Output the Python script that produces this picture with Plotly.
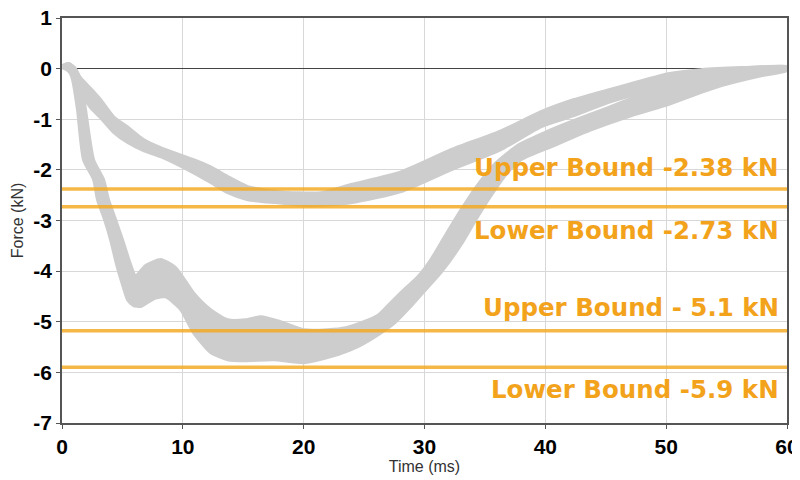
import plotly.graph_objects as go

# ---- data ----
# deep group envelope (time ms, force kN)
deep_top_t = [0.04, 0.54, 1.04, 1.53, 1.95, 2.61, 3.44, 3.85, 4.43, 5.01, 5.59, 6.09, 6.92, 8.16, 9.40,
              10.89, 12.30, 13.71, 15.20, 16.45, 18.10, 20.01, 21.99, 23.49, 24.98, 26.22, 27.22, 28.46,
              29.45, 30.53, 31.61, 33.02, 34.42, 35.91, 37.82, 40.06, 42.54, 45.19, 47.35, 50.17, 52.90,
              56.22, 60.0]
deep_top_f = [0.06, 0.10, 0.02, -0.22, -0.81, -1.80, -2.19, -2.59, -2.98, -3.38, -3.81, -4.09, -3.89,
              -3.77, -3.93, -4.43, -4.76, -4.96, -4.96, -4.90, -5.00, -5.16, -5.16, -5.12, -5.00, -4.86,
              -4.62, -4.33, -4.11, -3.77, -3.34, -2.79, -2.29, -1.86, -1.50, -1.25, -1.01, -0.77, -0.57,
              -0.32, -0.14, -0.02, 0.04]
deep_bot_t = [0.04, 0.37, 0.70, 0.87, 1.28, 1.78, 2.61, 2.94, 3.52, 4.02, 4.52, 5.01, 5.43, 5.92, 6.50,
              7.08, 7.75, 8.57, 9.82, 10.89, 12.30, 13.71, 15.20, 17.52, 20.01, 22.25, 24.48, 26.39,
              27.63, 28.62, 29.70, 31.36, 33.02, 34.26, 35.50, 36.74, 37.99, 40.72, 43.78, 47.10, 50.17,
              52.90, 54.81, 57.87, 60.0]
deep_bot_f = [0.02, -0.02, -0.10, -0.22, -0.81, -1.80, -2.19, -2.59, -2.98, -3.38, -3.87, -4.27, -4.57,
              -4.68, -4.70, -4.62, -4.53, -4.51, -4.76, -5.22, -5.61, -5.75, -5.77, -5.75, -5.81, -5.69,
              -5.49, -5.22, -5.00, -4.76, -4.47, -4.03, -3.48, -2.98, -2.51, -2.09, -1.80, -1.52, -1.21,
              -0.93, -0.71, -0.47, -0.32, -0.14, -0.04]

# shallow group envelope
shal_top_t = [0.04, 0.54, 1.04, 1.53, 2.61, 3.19, 4.27, 5.43, 6.75, 8.16, 10.89, 12.30, 13.71, 15.37,
              17.85, 21.41, 23.90, 28.05, 32.19, 36.33, 39.64, 42.38, 45.19, 47.35, 50.17, 52.90, 56.22, 60.0]
shal_top_f = [0.06, 0.10, 0.02, -0.18, -0.45, -0.61, -0.95, -1.15, -1.40, -1.56, -1.80, -1.94, -2.13,
              -2.33, -2.43, -2.45, -2.29, -2.04, -1.60, -1.23, -0.85, -0.61, -0.42, -0.28, -0.10, -0.02,
              0.02, 0.04]
shal_bot_t = [0.04, 0.54, 1.04, 1.53, 2.36, 3.19, 4.27, 5.43, 6.75, 8.16, 10.89, 12.30, 13.71, 15.37,
              17.85, 20.59, 23.90, 28.05, 32.19, 36.33, 39.64, 42.38, 45.19, 47.35, 50.17, 52.90, 56.22, 60.0]
shal_bot_f = [0.02, -0.02, -0.18, -0.47, -0.77, -0.97, -1.26, -1.46, -1.62, -1.74, -2.06, -2.25, -2.45,
              -2.59, -2.65, -2.71, -2.65, -2.43, -2.00, -1.60, -1.15, -0.93, -0.67, -0.52, -0.38, -0.18,
              -0.06, 0.00]

bound_values = [-2.38, -2.73, -5.18, -5.9]
bound_labels = ["Upper Bound -2.38 kN", "Lower Bound -2.73 kN", "Upper Bound - 5.1 kN", "Lower Bound -5.9 kN"]
label_y = [-1.96, -3.20, -4.72, -6.34]

x_ticks = [0, 10, 20, 30, 40, 50, 60]
y_ticks = [1, 0, -1, -2, -3, -4, -5, -6, -7]

GRAY = "#CDCDCD"
ORANGE_LINE = "rgba(243,168,30,0.82)"
ORANGE_TEXT = "#F2A31B"

fig = go.Figure()

for tt, tf, bt, bf in [(deep_top_t, deep_top_f, deep_bot_t, deep_bot_f),
                       (shal_top_t, shal_top_f, shal_bot_t, shal_bot_f)]:
    xs = list(tt) + list(reversed(bt))
    ys = list(tf) + list(reversed(bf))
    fig.add_trace(go.Scatter(x=xs, y=ys, mode="lines", fill="toself", fillcolor=GRAY,
                             line=dict(color=GRAY, width=3, shape="spline", smoothing=0.6),
                             hoverinfo="skip", showlegend=False))

for v in bound_values:
    fig.add_trace(go.Scatter(x=[0, 60], y=[v, v], mode="lines",
                             line=dict(color=ORANGE_LINE, width=3.5),
                             hoverinfo="skip", showlegend=False))

for lab, ly in zip(bound_labels, label_y):
    fig.add_annotation(x=59.5, y=ly, text=lab, showarrow=False, xanchor="right", yanchor="middle",
                       font=dict(family="DejaVu Sans", size=24.5, color=ORANGE_TEXT, weight="bold"))

# the page body has an 8px default margin; margins place the plot area where the reference has it
fig.update_layout(
    width=800, height=480,
    margin=dict(l=54, r=21, t=10, b=65),
    plot_bgcolor="white", paper_bgcolor="white",
    font=dict(family="Liberation Sans, Arial"),
)
fig.update_xaxes(range=[0, 60], tickvals=x_ticks, ticktext=[str(v) for v in x_ticks],
                 automargin=False, ticklabeloverflow="allow",
                 showgrid=True, gridcolor="#D8D8D8", gridwidth=1,
                 showline=True, linecolor="#555555", linewidth=1.5, mirror=True,
                 ticks="outside", ticklen=4, tickcolor="#555555",
                 zeroline=False,
                 tickfont=dict(family="Liberation Sans, Arial", size=21, color="black", weight="bold"),
                 title=dict(text="Time (ms)", font=dict(size=16, color="#333333"), standoff=4))
fig.update_yaxes(range=[-7, 1], tickvals=y_ticks, ticktext=[str(v) for v in y_ticks],
                 automargin=False, ticklabeloverflow="allow",
                 showgrid=True, gridcolor="#D8D8D8", gridwidth=1,
                 showline=True, linecolor="#555555", linewidth=1.5, mirror=True,
                 ticks="outside", ticklen=4, tickcolor="#555555",
                 zeroline=True, zerolinecolor="#444444", zerolinewidth=1.2,
                 tickfont=dict(family="Liberation Sans, Arial", size=21, color="black", weight="bold"),
                 title=dict(text="Force (kN)", font=dict(size=16, color="#333333"), standoff=6))

fig.write_html("out.html")
